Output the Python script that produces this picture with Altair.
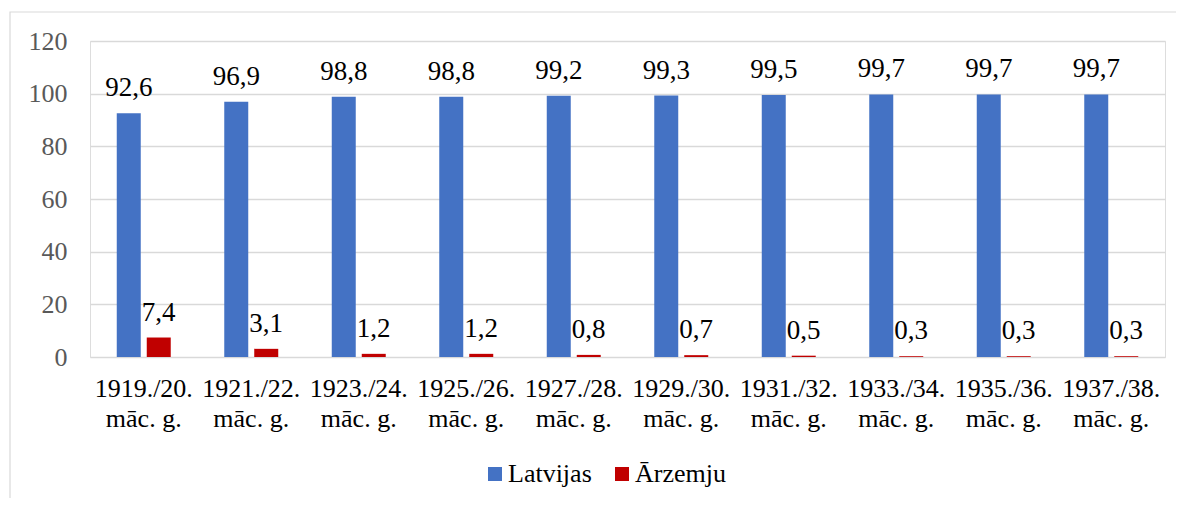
import altair as alt
import pandas as pd

years = ["1919./20.", "1921./22.", "1923./24.", "1925./26.", "1927./28.",
         "1929./30.", "1931./32.", "1933./34.", "1935./36.", "1937./38."]
suffix = "māc. g."
series = ["Latvijas", "Ārzemju"]
latvijas = [92.6, 96.9, 98.8, 98.8, 99.2, 99.3, 99.5, 99.7, 99.7, 99.7]
arzemju = [7.4, 3.1, 1.2, 1.2, 0.8, 0.7, 0.5, 0.3, 0.3, 0.3]
colors = ["#4472C4", "#C00000"]
y_ticks = [0, 20, 40, 60, 80, 100, 120]

cats = [f"{y}\n{suffix}" for y in years]
rows = []
for c, a, b in zip(cats, latvijas, arzemju):
    rows.append({"cat": c, "series": series[0], "value": a, "label": f"{a:.1f}".replace(".", ",")})
    rows.append({"cat": c, "series": series[1], "value": b, "label": f"{b:.1f}".replace(".", ",")})
df = pd.DataFrame(rows)

W, H = 1075, 316
FONT = "Liberation Serif"
FS = 26

x_enc = alt.X("cat:N", sort=cats, title=None,
              scale=alt.Scale(paddingInner=0.442, paddingOuter=0.221),
              axis=alt.Axis(labelExpr="split(datum.label, '\\n')", labelAngle=0,
                            labelFontSize=FS, labelColor="#000000", labelFont=FONT,
                            labelLineHeight=30, labelPadding=18, ticks=False,
                            domain=False, grid=False))
xo_enc = alt.XOffset("series:N", sort=series,
                     scale=alt.Scale(paddingInner=0.2, paddingOuter=0.1))
y_enc = alt.Y("value:Q", title=None,
              scale=alt.Scale(domain=[0, 120], nice=False),
              axis=alt.Axis(values=y_ticks, labelFontSize=FS, labelColor="#595959",
                            labelFont=FONT, labelPadding=23, ticks=False, domain=False,
                            grid=True, gridColor="#d9d9d9", gridWidth=1.3))

bars = alt.Chart(df).mark_bar().encode(
    x=x_enc, xOffset=xo_enc, y=y_enc,
    color=alt.Color("series:N", sort=series,
                    scale=alt.Scale(domain=series, range=colors),
                    legend=alt.Legend(title=None, orient="none", legendX=392, legendY=420,
                                      direction="horizontal", symbolType="square",
                                      symbolSize=196, symbolStrokeWidth=0,
                                      labelFontSize=FS, labelFont=FONT, labelColor="#000000",
                                      labelOffset=0, columnPadding=17, padding=0)),
)

texts = alt.Chart(df).mark_text(baseline="alphabetic", dy=-17, fontSize=27,
                                font=FONT, color="#000000").encode(
    x=x_enc, xOffset=xo_enc, y=y_enc, text="label:N"
)

frame = alt.Chart(alt.Data(values=[{"k": 1}])).mark_rect(
    fillOpacity=0, stroke="#d9d9d9", strokeWidth=1.2
).encode(
    x=alt.value(-80), x2=alt.value(W + 100), y=alt.value(-29), y2=alt.value(H + 200)
)

chart = alt.layer(frame, bars, texts).properties(
    width=W, height=H,
    autosize=alt.AutoSizeParams(type="none"),
    padding={"left": 82, "top": 33, "right": 11, "bottom": 141},
).configure_view(stroke=None).configure(font=FONT)

chart.save("out.html", embed_options={"renderer": "svg", "actions": False})
